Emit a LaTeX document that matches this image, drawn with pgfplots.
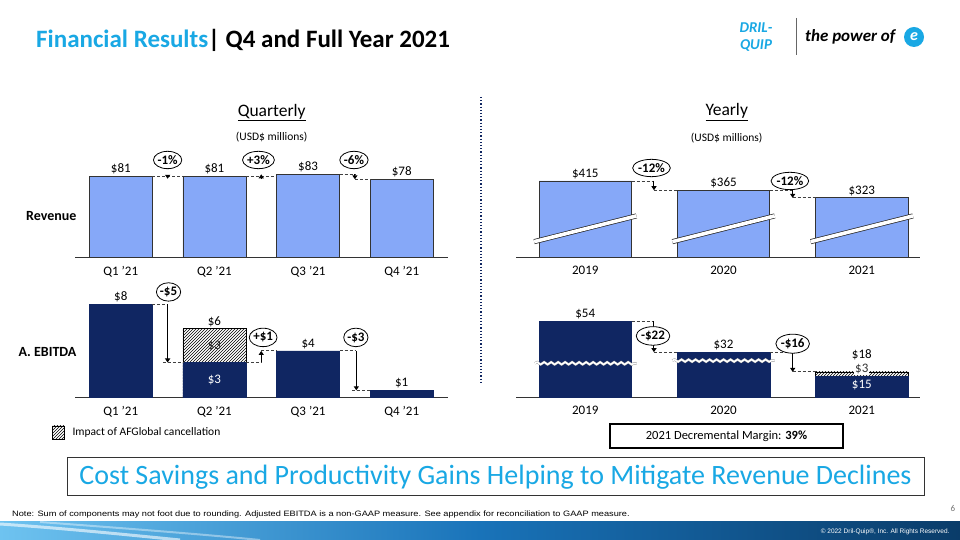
\documentclass[border=0pt]{standalone}
\usepackage{fontspec}
\setmainfont{Carlito}
\newfontfamily\arialf{Liberation Sans}
\usepackage{graphicx}
\usepackage{pgfplots}
\pgfplotsset{compat=1.18}
\usetikzlibrary{patterns,decorations.pathmorphing,shapes.geometric,arrows.meta}
\definecolor{revblue}{RGB}{134,168,248}
\definecolor{navy}{RGB}{16,38,98}
\definecolor{dqcyan}{RGB}{25,168,228}
\newcommand\fs[1]{\fontsize{#1pt}{#1pt}\selectfont}
\pgfplotsset{slide/.style={scale only axis, axis x line=bottom, axis y line=none,
  x axis line style={-, line width=1.2pt, color=black!80}, xtick style={draw=none},
  ymin=0, ytick=\empty, clip=false,
  xticklabel style={font=\fs{13}, yshift=-3pt}}}
\tikzset{dsh/.style={densely dashed, black!75, line width=0.9pt},
  arr/.style={-{Triangle[width=5pt,length=4pt]}, line width=1pt, black},
  pct/.style={draw=black, ellipse, fill=white, inner xsep=0pt, inner ysep=1.6pt, line width=0.8pt, font=\fs{13}\bfseries},
  vl/.style={anchor=south, inner sep=2pt, font=\fs{13}},
  brk/.style={double=white, double distance=3.6pt, draw=black!85, line width=0.7pt}}
\begin{document}
\begin{tikzpicture}[x=1pt,y=1pt]
\useasboundingbox (0,0) rectangle (960,540);
\fill[white] (0,0) rectangle (960,540);
% title
\node[anchor=base west, inner sep=0] at (36,492) {\fs{25}\bfseries\textcolor{dqcyan}{Financial Results}| Q4 and Full Year 2021};
% logo
\node[inner sep=0, text=dqcyan, font=\fs{15}\bfseries\itshape] at (756,512) {DRIL-};
\node[inner sep=0, text=dqcyan, font=\fs{15}\bfseries\itshape] at (756,494) {QUIP};
\draw[black!60, line width=0.8pt] (796,522) -- (796,485);
\node[anchor=west, inner sep=0, font=\fs{17}\bfseries\itshape] at (805,503) {the power of};
\fill[dqcyan] (914,503) circle (10);
\node[text=white, font=\fs{16}\bfseries\itshape] at (914,503.5) {e};
% subtitles
\node[font=\fs{17.5}] at (271.7,427.3) {\underline{Quarterly}};
\node[font=\fs{11.5}] at (271.7,403.3) {(USD\$ millions)};
\node[font=\fs{17.5}] at (726.7,428) {\underline{Yearly}};
\node[font=\fs{11.5}] at (726.7,402) {(USD\$ millions)};
\node[anchor=east, font=\fs{14}\bfseries] at (80,324) {Revenue};
\node[anchor=east, font=\fs{14}\bfseries] at (80,188) {A. EBITDA};
\draw[navy, dotted, line width=1.2pt] (481,443) -- (481,156);

% ---------- Quarterly revenue
\begin{scope}[shift={(75pt,282.7pt)}]
\begin{axis}[slide, width=373pt, height=100pt,
  xmin=-0.489, xmax=3.494, ymax=100, xtick={0,1,2,3},
  xticklabels={Q1 ’21, Q2 ’21, Q3 ’21, Q4 ’21}]
\addplot[ybar, bar shift=0pt, bar width=63pt, fill=revblue, draw=black!80, line width=0.8pt]
  coordinates {(0,81) (1,81) (2,83) (3,78)};
\node[vl] at (axis cs:0,81) {\$81};
\node[vl] at (axis cs:1,81) {\$81};
\node[vl] at (axis cs:2,83) {\$83};
\node[vl] at (axis cs:3,78) {\$78};
\draw[dsh] (axis cs:0.336,81) -- (axis cs:0.664,81);
\draw[arr] (axis cs:0.5,81) -- (axis cs:0.5,78.5);
\draw[dsh] (axis cs:1.336,81) -- (axis cs:1.664,81);
\draw[arr] (axis cs:1.5,79) -- (axis cs:1.5,83);
\draw[dsh] (axis cs:2.336,83) -- (axis cs:2.5,83);
\draw[arr] (axis cs:2.5,83) -- (axis cs:2.5,78);
\draw[dsh] (axis cs:2.5,78) -- (axis cs:2.664,78);
\node[pct] at (axis cs:0.5,97.3) {-1\%};
\node[pct] at (axis cs:1.47,97.3) {+3\%};
\node[pct] at (axis cs:2.49,97.3) {-6\%};
\end{axis}
\end{scope}

% ---------- Yearly revenue
\begin{scope}[shift={(516pt,282.7pt)}]
\begin{axis}[slide, width=404pt, height=100pt,
  xmin=-0.501, xmax=2.421, ymax=543.8, xtick={0,1,2},
  xticklabels={2019, 2020, 2021}]
\addplot[ybar, bar shift=0pt, bar width=92.5pt, fill=revblue, draw=black!80, line width=0.8pt]
  coordinates {(0,415) (1,365) (2,323)};
\node[vl] at (axis cs:0,415) {\$415};
\node[vl] at (axis cs:1,365) {\$365};
\node[vl] at (axis cs:2,323) {\$323};
\draw[brk] (axis cs:-0.37,85) -- (axis cs:0.37,225);
\draw[brk] (axis cs:0.63,85) -- (axis cs:1.37,225);
\draw[brk] (axis cs:1.63,85) -- (axis cs:2.37,225);
\draw[dsh] (axis cs:0.3345,415) -- (axis cs:0.497,415);
\draw[arr] (axis cs:0.497,415) -- (axis cs:0.497,365);
\draw[dsh] (axis cs:0.497,365) -- (axis cs:0.6655,365);
\draw[dsh] (axis cs:1.3345,365) -- (axis cs:1.5,365);
\draw[arr] (axis cs:1.5,365) -- (axis cs:1.5,323);
\draw[dsh] (axis cs:1.5,323) -- (axis cs:1.6655,323);
\node[pct] at (axis cs:0.479,485.6) {-12\%};
\node[pct] at (axis cs:1.48,415) {-12\%};
\end{axis}
\end{scope}

% ---------- Quarterly EBITDA
\begin{scope}[shift={(75pt,142.7pt)}]
\begin{axis}[slide, width=373pt, height=100pt,
  xmin=-0.489, xmax=3.494, ymax=8.62, xtick={0,1,2,3},
  xticklabels={Q1 ’21, Q2 ’21, Q3 ’21, Q4 ’21}]
\addplot[ybar, bar shift=0pt, bar width=63pt, pattern=north east lines, draw=black, line width=0.8pt]
  coordinates {(1,5.9)};
\addplot[ybar, bar shift=0pt, bar width=63pt, fill=navy, draw=navy]
  coordinates {(0,8) (1,3) (2,4) (3,0.6)};
\node[vl] at (axis cs:0,8) {\$8};
\node[vl] at (axis cs:1,5.9) {\$6};
\node[vl] at (axis cs:2,4) {\$4};
\node[vl] at (axis cs:3,0.6) {\$1};
\node[font=\fs{13}, text=black!85] at (axis cs:1,4.45) {\$3};
\node[font=\fs{13}, text=white] at (axis cs:1,1.45) {\$3};
\draw[dsh] (axis cs:0.336,8) -- (axis cs:0.5,8);
\draw[arr] (axis cs:0.5,8) -- (axis cs:0.5,3);
\draw[dsh] (axis cs:0.45,3) -- (axis cs:0.664,3);
\draw[dsh] (axis cs:1.336,3) -- (axis cs:1.5,3);
\draw[arr] (axis cs:1.5,3) -- (axis cs:1.5,4);
\draw[dsh] (axis cs:1.5,4) -- (axis cs:1.664,4);
\draw[dsh] (axis cs:2.336,4) -- (axis cs:2.515,4);
\draw[arr] (axis cs:2.515,4) -- (axis cs:2.515,0.6);
\draw[dsh] (axis cs:2.47,0.6) -- (axis cs:2.664,0.6);
\node[pct] at (axis cs:0.51,9.08) {-\$5};
\node[pct] at (axis cs:1.52,5.16) {+\$1};
\node[pct] at (axis cs:2.51,5.16) {-\$3};
\end{axis}
\end{scope}

% ---------- Yearly EBITDA
\begin{scope}[shift={(516pt,142.7pt)}]
\begin{axis}[slide, width=404pt, height=100pt,
  xmin=-0.501, xmax=2.421, ymax=70.9, xtick={0,1,2},
  xticklabels={2019, 2020, 2021}]
\addplot[ybar, bar shift=0pt, bar width=92.5pt, pattern=north east lines, draw=black, line width=0.6pt]
  coordinates {(2,18)};
\addplot[ybar, bar shift=0pt, bar width=92.5pt, fill=navy, draw=navy]
  coordinates {(0,54) (1,32) (2,15)};
\node[vl] at (axis cs:0,54) {\$54};
\node[vl] at (axis cs:1,32) {\$32};
\node[font=\fs{13}] at (axis cs:2,30) {\$18};
\node[font=\fs{13}, fill=white, inner sep=1pt, text=black!80] at (axis cs:2,19.9) {\$3};
\node[font=\fs{13}, text=white] at (axis cs:2,8.7) {\$15};
\draw[draw=black!40, double=white, double distance=1.6pt, line width=0.4pt, decorate, decoration={snake, amplitude=1.2pt, segment length=7pt}]
  (axis cs:-0.364,24.1) -- (axis cs:0.372,24.1);
\draw[draw=black!40, double=white, double distance=1.6pt, line width=0.4pt, decorate, decoration={snake, amplitude=1.2pt, segment length=7pt}]
  (axis cs:0.63,26) -- (axis cs:1.37,26);
\draw[dsh] (axis cs:0.3345,54) -- (axis cs:0.497,54);
\draw[arr] (axis cs:0.497,54) -- (axis cs:0.497,32);
\draw[dsh] (axis cs:0.497,32) -- (axis cs:0.6655,32);
\draw[dsh] (axis cs:1.3345,32) -- (axis cs:1.5,32);
\draw[arr] (axis cs:1.5,32) -- (axis cs:1.5,18);
\draw[dsh] (axis cs:1.5,18) -- (axis cs:1.6655,18);
\node[pct] at (axis cs:0.49,43.5) {-\$22};
\node[pct] at (axis cs:1.5,38) {-\$16};
\end{axis}
\end{scope}

% legend and boxes
\draw[pattern=north east lines, line width=0.6pt] (52,101) rectangle (64,114);
\node[anchor=west, font=\fs{11.5}] at (69,107.5) {Impact of AFGlobal cancellation};
\draw[line width=1.2pt] (610,92) rectangle (843,116);
\node[font=\fs{12.5}] at (726.5,104) {2021 Decremental Margin: \textbf{39\%}};
\draw[line width=0.8pt, black!80] (67,45) rectangle (924,83);
\node[font=\fs{28}, text=dqcyan] at (495.5,63) {Cost Savings and Productivity Gains Helping to Mitigate Revenue Declines};
\node[anchor=west, inner sep=0, font=\arialf\fs{7.8}] at (12,26) {\scalebox{1.18}[1]{Note: Sum of components may not foot due to rounding. Adjusted EBITDA is a non-GAAP measure. See appendix for reconciliation to GAAP measure.}};
\node[font=\fs{9}, text=black!55] at (953,32) {6};
% bottom band
\shade[left color={rgb,255:red,110;green,195;blue,240}, right color={rgb,255:red,10;green,60;blue,105}, middle color={rgb,255:red,25;green,115;blue,185}] (0,0) rectangle (960,18);
\draw[white, opacity=0.6, line width=3pt] (0,16) .. controls (60,12) and (120,6) .. (180,0);
\draw[white, opacity=0.4, line width=2pt] (40,18) .. controls (120,12) and (200,6) .. (260,0);
\node[anchor=east, text=white, font=\arialf\fs{6.5}] at (953,8) {© 2022 Dril-Quip®, Inc. All Rights Reserved.};
\end{tikzpicture}
\end{document}
